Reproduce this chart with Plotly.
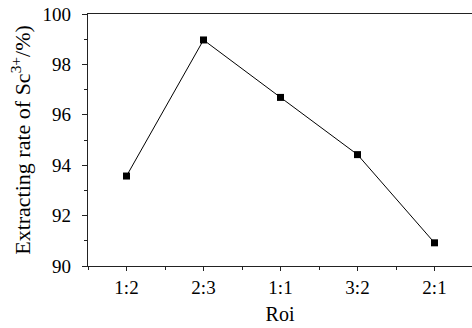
import plotly.graph_objects as go

categories = ["1:2", "2:3", "1:1", "3:2", "2:1"]
rates = [93.57, 98.97, 96.69, 94.42, 90.92]
y_ticks = [90, 92, 94, 96, 98, 100]

xpos = list(range(len(categories)))

fig = go.Figure(
    go.Scatter(
        x=xpos, y=rates, mode="lines+markers",
        line=dict(color="black", width=1),
        marker=dict(symbol="square", size=7, color="black"),
        showlegend=False,
    )
)

font = "Liberation Serif"
fig.update_layout(
    width=472, height=328,
    margin=dict(l=88, r=0, t=14, b=62, autoexpand=False),
    paper_bgcolor="white", plot_bgcolor="white",
    font=dict(family=font, color="black", size=19),
    xaxis=dict(
        range=[-0.5, 4.487], tickvals=xpos, ticktext=categories,
        showgrid=False, zeroline=False, automargin=False,
        showline=True, linecolor="#222", linewidth=1.3, mirror=True,
        ticks="outside", ticklen=4, tickcolor="#222", tickwidth=1,
        minor=dict(tick0=0.5, dtick=1, ticks="outside", ticklen=3, tickcolor="#222", showgrid=False),
        tickfont=dict(size=19, family=font),
        title=dict(text="Roi", font=dict(size=20, family=font), standoff=10),
    ),
    yaxis=dict(
        range=[90, 100], tickvals=y_ticks,
        showgrid=False, zeroline=False, automargin=False,
        showline=True, linecolor="#222", linewidth=1.3, mirror=False,
        ticks="outside", ticklen=5, tickcolor="#222", tickwidth=1,
        ticklabelstandoff=7,
        minor=dict(dtick=1, ticks="outside", ticklen=3, tickcolor="#222", showgrid=False),
        tickfont=dict(size=19, family=font),
        title=dict(text="Extracting rate of Sc<sup>3+</sup>/%)", font=dict(size=22, family=font), standoff=5),
    ),
)

fig.write_html("out.html", config={"displayModeBar": False},
               post_script="document.body.style.margin='0';")
